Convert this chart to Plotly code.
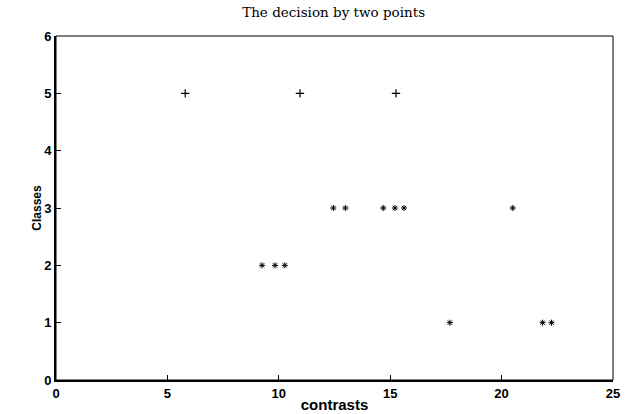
import plotly.graph_objects as go

plus_x = [5.8, 10.95, 15.26]
plus_y = [5, 5, 5]
star_x = [9.25, 9.83, 10.27, 12.45, 12.99, 14.69, 15.21, 15.62, 20.5, 17.68, 21.84, 22.24]
star_y = [2, 2, 2, 3, 3, 3, 3, 3, 3, 1, 1, 1]
x_ticks = [0, 5, 10, 15, 20, 25]
y_ticks = [0, 1, 2, 3, 4, 5, 6]

fig = go.Figure()
fig.add_trace(go.Scatter(x=plus_x, y=plus_y, mode="markers",
                         marker=dict(symbol="cross-thin", size=6, line=dict(color="black", width=1.2))))
fig.add_trace(go.Scatter(x=star_x, y=star_y, mode="markers",
                         marker=dict(symbol="asterisk", size=5, line=dict(color="black", width=1))))

fig.add_shape(type="rect", xref="paper", yref="paper", x0=0, y0=0, x1=1, y1=1,
              line=dict(color="black", width=1))

tf = dict(family="Liberation Sans", size=13, color="black", weight="bold")
fig.update_layout(
    width=626, height=414,
    margin=dict(l=56, r=13, t=36, b=34),
    plot_bgcolor="white", paper_bgcolor="white",
    showlegend=False,
    title=dict(text="The decision by two points", x=0.533, xanchor="center", y=0.97, yanchor="middle",
               font=dict(family="DejaVu Serif", size=13.5, color="black")),
    xaxis=dict(range=[0, 25], tickvals=x_ticks, ticks="inside", ticklen=5, tickcolor="black",
               showgrid=False, zeroline=False, showline=True, linecolor="black", linewidth=2,
               automargin=False, tickfont=tf,
               title=dict(text="contrasts", standoff=0,
                          font=dict(family="Liberation Sans", size=15, color="black", weight="bold"))),
    yaxis=dict(range=[0, 6], tickvals=y_ticks, ticks="inside", ticklen=5, tickcolor="black",
               showgrid=False, zeroline=False, showline=True, linecolor="black", linewidth=2,
               automargin=False, tickfont=tf,
               title=dict(text="Classes", standoff=0,
                          font=dict(family="Liberation Sans", size=12, color="black", weight="bold"))),
)
fig.write_html("out.html", config={"displayModeBar": False},
               post_script="document.body.style.margin='0';document.body.style.overflow='hidden';")
